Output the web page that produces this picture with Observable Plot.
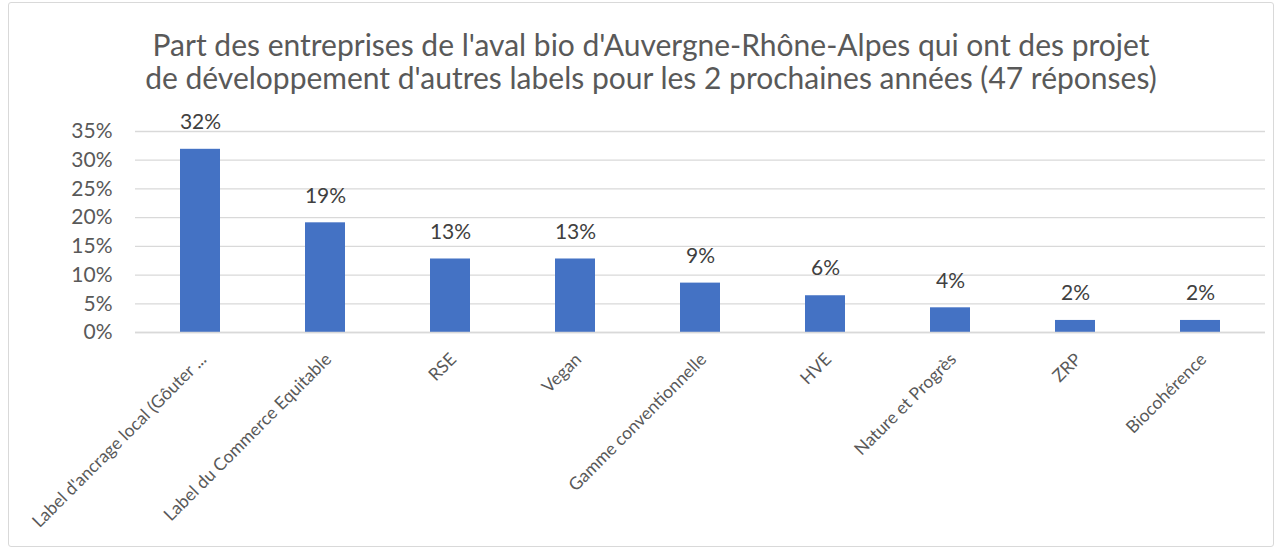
<!DOCTYPE html>
<html>
<head>
<meta charset="utf-8">
<script src="https://cdn.jsdelivr.net/npm/d3@7"></script>
<script src="https://cdn.jsdelivr.net/npm/@observablehq/plot@0.6"></script>
<style>
  html, body { margin: 0; padding: 0; background: #fff; }
  #frame { position: absolute; left: 8px; top: 2px; width: 1266px; height: 545px; border: 1px solid #d9d9d9; box-sizing: border-box; border-radius: 3px; }
  #title { position: absolute; left: 0; top: 28px; width: 1302px; text-align: center; font-family: Lato, "Open Sans", sans-serif; font-size: 30px; line-height: 33px; color: #595959; }
  #chart { position: absolute; left: 0; top: 100px; }
</style>
</head>
<body>
<div id="frame"></div>
<div id="title">Part des entreprises de l'aval bio d'Auvergne-Rhône-Alpes qui ont des projet<br>de développement d'autres labels pour les 2 prochaines années (47 réponses)</div>
<div id="chart"></div>
<script>
const categories = ["Label d'ancrage local (Gôuter ...", "Label du Commerce Equitable", "RSE", "Vegan", "Gamme conventionnelle", "HVE", "Nature et Progrès", "ZRP", "Biocohérence"];
const values = [0.319, 0.191, 0.128, 0.128, 0.086, 0.064, 0.043, 0.021, 0.021];
const yTicks = [0, 0.05, 0.10, 0.15, 0.20, 0.25, 0.30, 0.35];

const data = categories.map((c, i) => ({label: c, value: values[i]}));
const fmt = d3.format(".0%");
const font = "Lato, 'Open Sans', sans-serif";

const plot = Plot.plot({
  width: 1278,
  height: 448,
  marginTop: 31,
  marginBottom: 216,
  marginLeft: 135,
  marginRight: 13,
  style: {fontFamily: font, color: "#595959", background: "transparent"},
  x: {domain: categories, paddingInner: 0.68, paddingOuter: 0.34, axis: null},
  y: {domain: [0, 0.35], axis: null},
  marks: [
    Plot.gridY(yTicks, {stroke: "#d9d9d9", strokeOpacity: 1, strokeWidth: 1.3}),
    Plot.axisY(yTicks, {label: null, tickFormat: fmt, tickSize: 0, tickPadding: 23, fontSize: 21, fill: "#595959"}),
    Plot.barY(data, {x: "label", y: "value", fill: "#4472c4"}),
    Plot.ruleY([0], {stroke: "#d9d9d9", strokeWidth: 1.5}),
    Plot.text(data, {x: "label", y: "value", text: d => fmt(d.value), dy: -27, fontSize: 21, fill: "#404040"}),
    Plot.text(data, {x: "label", y: () => 0, text: "label", rotate: -45, textAnchor: "end", lineAnchor: "middle", dx: 3, dy: 24, fontSize: 17.5, fill: "#595959"})
  ]
});
document.getElementById("chart").appendChild(plot);
</script>
</body>
</html>
